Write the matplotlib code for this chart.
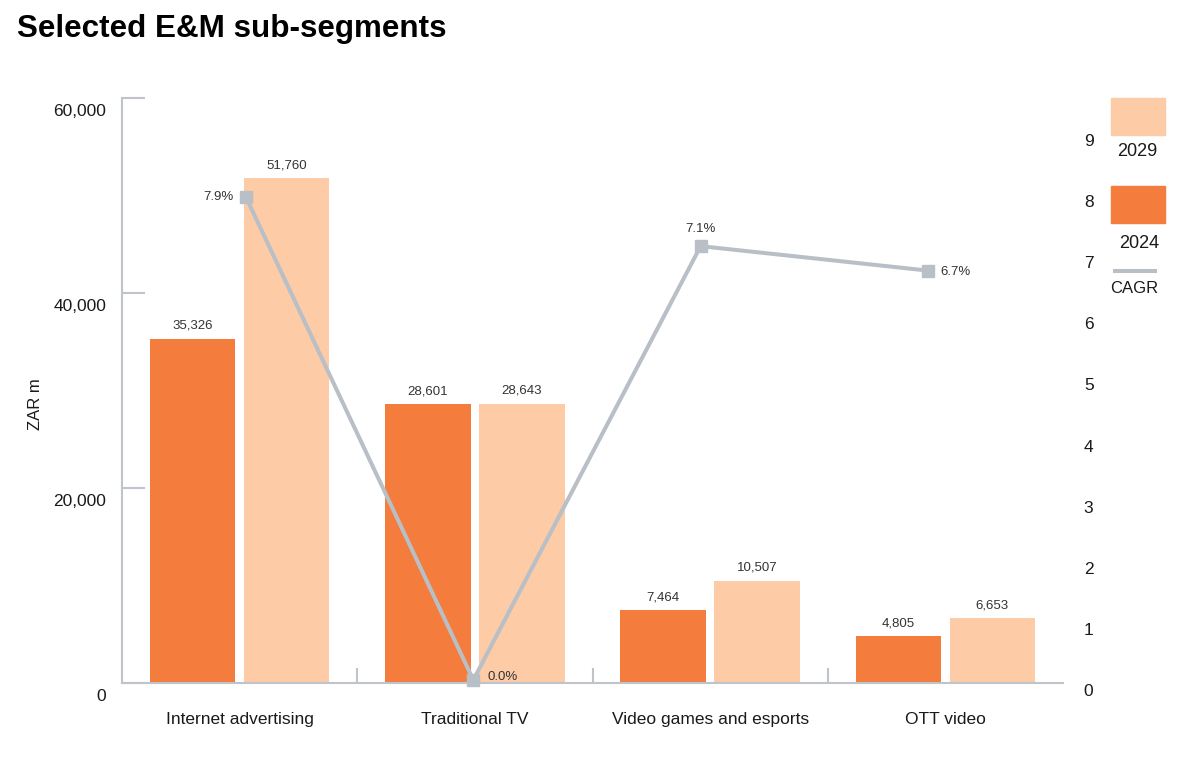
import matplotlib
matplotlib.use("Agg")
import numpy as np
import matplotlib.pyplot as plt
from matplotlib.patches import Rectangle
from matplotlib.lines import Line2D
from matplotlib.transforms import ScaledTranslation

# Data
categories = ["Internet advertising", "Traditional TV", "Video games and esports", "OTT video"]
values_2024 = [35326, 28601, 7464, 4805]
values_2029 = [51760, 28643, 10507, 6653]
cagr = [7.9, 0.0, 7.1, 6.7]
cagr_labels = ["7.9%", "0.0%", "7.1%", "6.7%"]

ORANGE = "#F47C3C"
PEACH = "#FDCBA6"
GREY_LINE = "#B9BFC6"
GREY_AXIS = "#BFC4CB"
TEXT = "#1a1a1a"
LABEL = "#333333"

W, H = 1200, 770
plt.rcParams["font.family"] = ["Liberation Sans", "DejaVu Sans"]

fig = plt.figure(figsize=(W / 100, H / 100), dpi=100)


def fx(px):
    return px / W


def fy(py):
    return 1 - py / H


# main axes, pixel box 122..1063 x 98..683
pos = [fx(122), fy(683), (1063 - 122) / W, (683 - 98) / H]
ax = fig.add_axes(pos)

x = np.arange(len(categories))
bw = 0.364
b24 = ax.bar(x - 0.2, values_2024, bw, color=ORANGE, zorder=2)
b29 = ax.bar(x + 0.2, values_2029, bw, color=PEACH, zorder=2)

for bars, vals in ((b24, values_2024), (b29, values_2029)):
    for rect, v in zip(bars, vals):
        ax.annotate(f"{v:,}", (rect.get_x() + rect.get_width() / 2, v),
                    xytext=(0, 5), textcoords="offset points",
                    ha="center", va="bottom", fontsize=9.5, color=LABEL)

ax.set_xlim(-0.5, len(categories) - 0.5)
ax.set_ylim(0, 60000)

for s in ("top", "right"):
    ax.spines[s].set_visible(False)
for s in ("left", "bottom"):
    ax.spines[s].set_color(GREY_AXIS)
    ax.spines[s].set_linewidth(1.5)

ax.set_yticks([0, 20000, 40000, 60000])
ax.set_yticklabels(["0", "20,000", "40,000", "60,000"])
ax.tick_params(axis="y", direction="in", length=16.5, width=1.5, color=GREY_AXIS,
               pad=11.5, labelsize=12.5, labelcolor=TEXT)
shift = ScaledTranslation(0, -12 / 100, fig.dpi_scale_trans)
for lab in ax.get_yticklabels():
    lab.set_transform(lab.get_transform() + shift)

# category separators as major ticks, names as minor ticks
ax.set_xticks([0.5, 1.5, 2.5])
ax.set_xticklabels([])
ax.tick_params(axis="x", which="major", direction="in", length=11, width=1.5, color=GREY_AXIS)
ax.set_xticks(x, minor=True)
ax.set_xticklabels(categories, minor=True)
ax.tick_params(axis="x", which="minor", length=0, pad=21, labelsize=12.5, labelcolor=TEXT)

# CAGR line on its own axes (right scale)
ax2 = fig.add_axes(pos, facecolor="none")
ax2.plot(x, cagr, color=GREY_LINE, lw=2.9, marker="s", markersize=8.5,
         clip_on=False, zorder=3)
ax2.set_xlim(-0.5455, 3.594)
ax2.set_ylim(-0.05, 9.525)
for s in ax2.spines.values():
    s.set_visible(False)
ax2.set_xticks([])
ax2.yaxis.tick_right()
ax2.set_yticks(range(10))
ax2.tick_params(axis="y", length=0, pad=15, labelsize=12.5, labelcolor=TEXT)
shift2 = ScaledTranslation(0, -10 / 100, fig.dpi_scale_trans)
for lab in ax2.get_yticklabels():
    lab.set_transform(lab.get_transform() + shift2)

offsets = [(-9, 0, "right", "center"), (10, 2, "left", "center"),
           (0, 8, "center", "bottom"), (9, -1, "left", "center")]
for xi, yi, txt, (dx, dy, ha, va) in zip(x, cagr, cagr_labels, offsets):
    ax2.annotate(txt, (xi, yi), xytext=(dx, dy), textcoords="offset points",
                 ha=ha, va=va, fontsize=9.5, color=LABEL)

# title and y label
fig.text(fx(17), fy(14), "Selected E&M sub-segments", fontsize=22.6, fontweight="bold",
         ha="left", va="top", color="#000000")
fig.text(fx(36), fy(404), "ZAR m", rotation=90, fontsize=12, ha="center", va="center",
         color=TEXT)

# legend drawn by hand at the right edge
fig.add_artist(Rectangle((fx(1111), fy(135)), 54 / W, 37 / H, transform=fig.transFigure,
                         color=PEACH))
fig.text(fx(1137), fy(152), "2029", fontsize=13, ha="center", va="center", color=TEXT)
fig.add_artist(Rectangle((fx(1111), fy(223)), 54 / W, 37 / H, transform=fig.transFigure,
                         color=ORANGE))
fig.text(fx(1139), fy(243), "2024", fontsize=13, ha="center", va="center", color=TEXT)
fig.add_artist(Line2D([fx(1115), fx(1155)], [fy(271), fy(271)], transform=fig.transFigure,
                      color=GREY_LINE, lw=2.9))
fig.text(fx(1134), fy(289), "CAGR", fontsize=12, ha="center", va="center", color=TEXT)

fig.savefig("out.png", dpi=100)
